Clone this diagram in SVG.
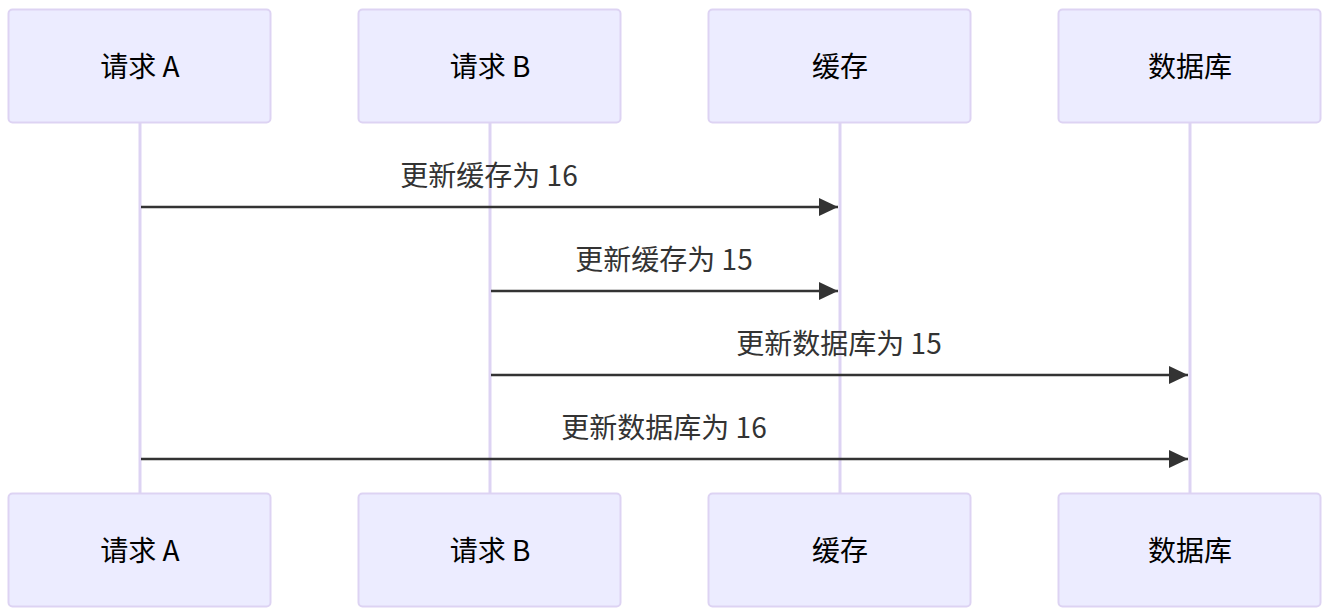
<svg xmlns="http://www.w3.org/2000/svg" width="1330" height="616" viewBox="0 0 1330 616">
<style>
.actor{fill:#ECECFF;stroke:#DDD3F3;stroke-width:2}
.life{stroke:#DDD3F3;stroke-width:3}
.t{font-family:"Noto Sans CJK SC","Noto Sans",sans-serif;font-size:28px;text-anchor:middle;dominant-baseline:central;fill:#000}
.m{font-family:"Noto Sans CJK SC","Noto Sans",sans-serif;font-size:28px;text-anchor:middle;dominant-baseline:central;fill:#333}
.msg{stroke:#333;stroke-width:2.5;fill:none;marker-end:url(#ah)}
</style>
<defs>
<marker id="ah" markerUnits="userSpaceOnUse" markerWidth="20" markerHeight="20" refX="19" refY="9" orient="auto">
<path d="M0,0 L19,9 L0,18 Z" fill="#333"/>
</marker>
</defs>
<rect width="1330" height="616" fill="#fff"/>
<g id="lifelines">
<line class="life" x1="140" y1="123" x2="140" y2="493"/>
<line class="life" x1="490" y1="123" x2="490" y2="493"/>
<line class="life" x1="840" y1="123" x2="840" y2="493"/>
<line class="life" x1="1190" y1="123" x2="1190" y2="493"/>
</g>
<g id="A-top"><rect class="actor" x="8.5" y="9.5" width="262" height="113" rx="4"/><text class="t" x="140" y="65">请求 A</text></g>
<g id="B-top"><rect class="actor" x="358.5" y="9.5" width="262" height="113" rx="4"/><text class="t" x="490" y="65">请求 B</text></g>
<g id="C-top"><rect class="actor" x="708.5" y="9.5" width="262" height="113" rx="4"/><text class="t" x="840" y="65">缓存</text></g>
<g id="D-top"><rect class="actor" x="1058.5" y="9.5" width="262" height="113" rx="4"/><text class="t" x="1190" y="65">数据库</text></g>
<g id="A-bottom"><rect class="actor" x="8.5" y="493.5" width="262" height="113" rx="4"/><text class="t" x="140" y="549">请求 A</text></g>
<g id="B-bottom"><rect class="actor" x="358.5" y="493.5" width="262" height="113" rx="4"/><text class="t" x="490" y="549">请求 B</text></g>
<g id="C-bottom"><rect class="actor" x="708.5" y="493.5" width="262" height="113" rx="4"/><text class="t" x="840" y="549">缓存</text></g>
<g id="D-bottom"><rect class="actor" x="1058.5" y="493.5" width="262" height="113" rx="4"/><text class="t" x="1190" y="549">数据库</text></g>
<g id="connectors">
<line class="msg" x1="141" y1="207" x2="838" y2="207"/>
<text class="m" x="489" y="174">更新缓存为 16</text>
<line class="msg" x1="491" y1="291" x2="838" y2="291"/>
<text class="m" x="664" y="258">更新缓存为 15</text>
<line class="msg" x1="491" y1="375" x2="1188" y2="375"/>
<text class="m" x="839" y="342">更新数据库为 15</text>
<line class="msg" x1="141" y1="459" x2="1188" y2="459"/>
<text class="m" x="664" y="426">更新数据库为 16</text>
</g>
</svg>
